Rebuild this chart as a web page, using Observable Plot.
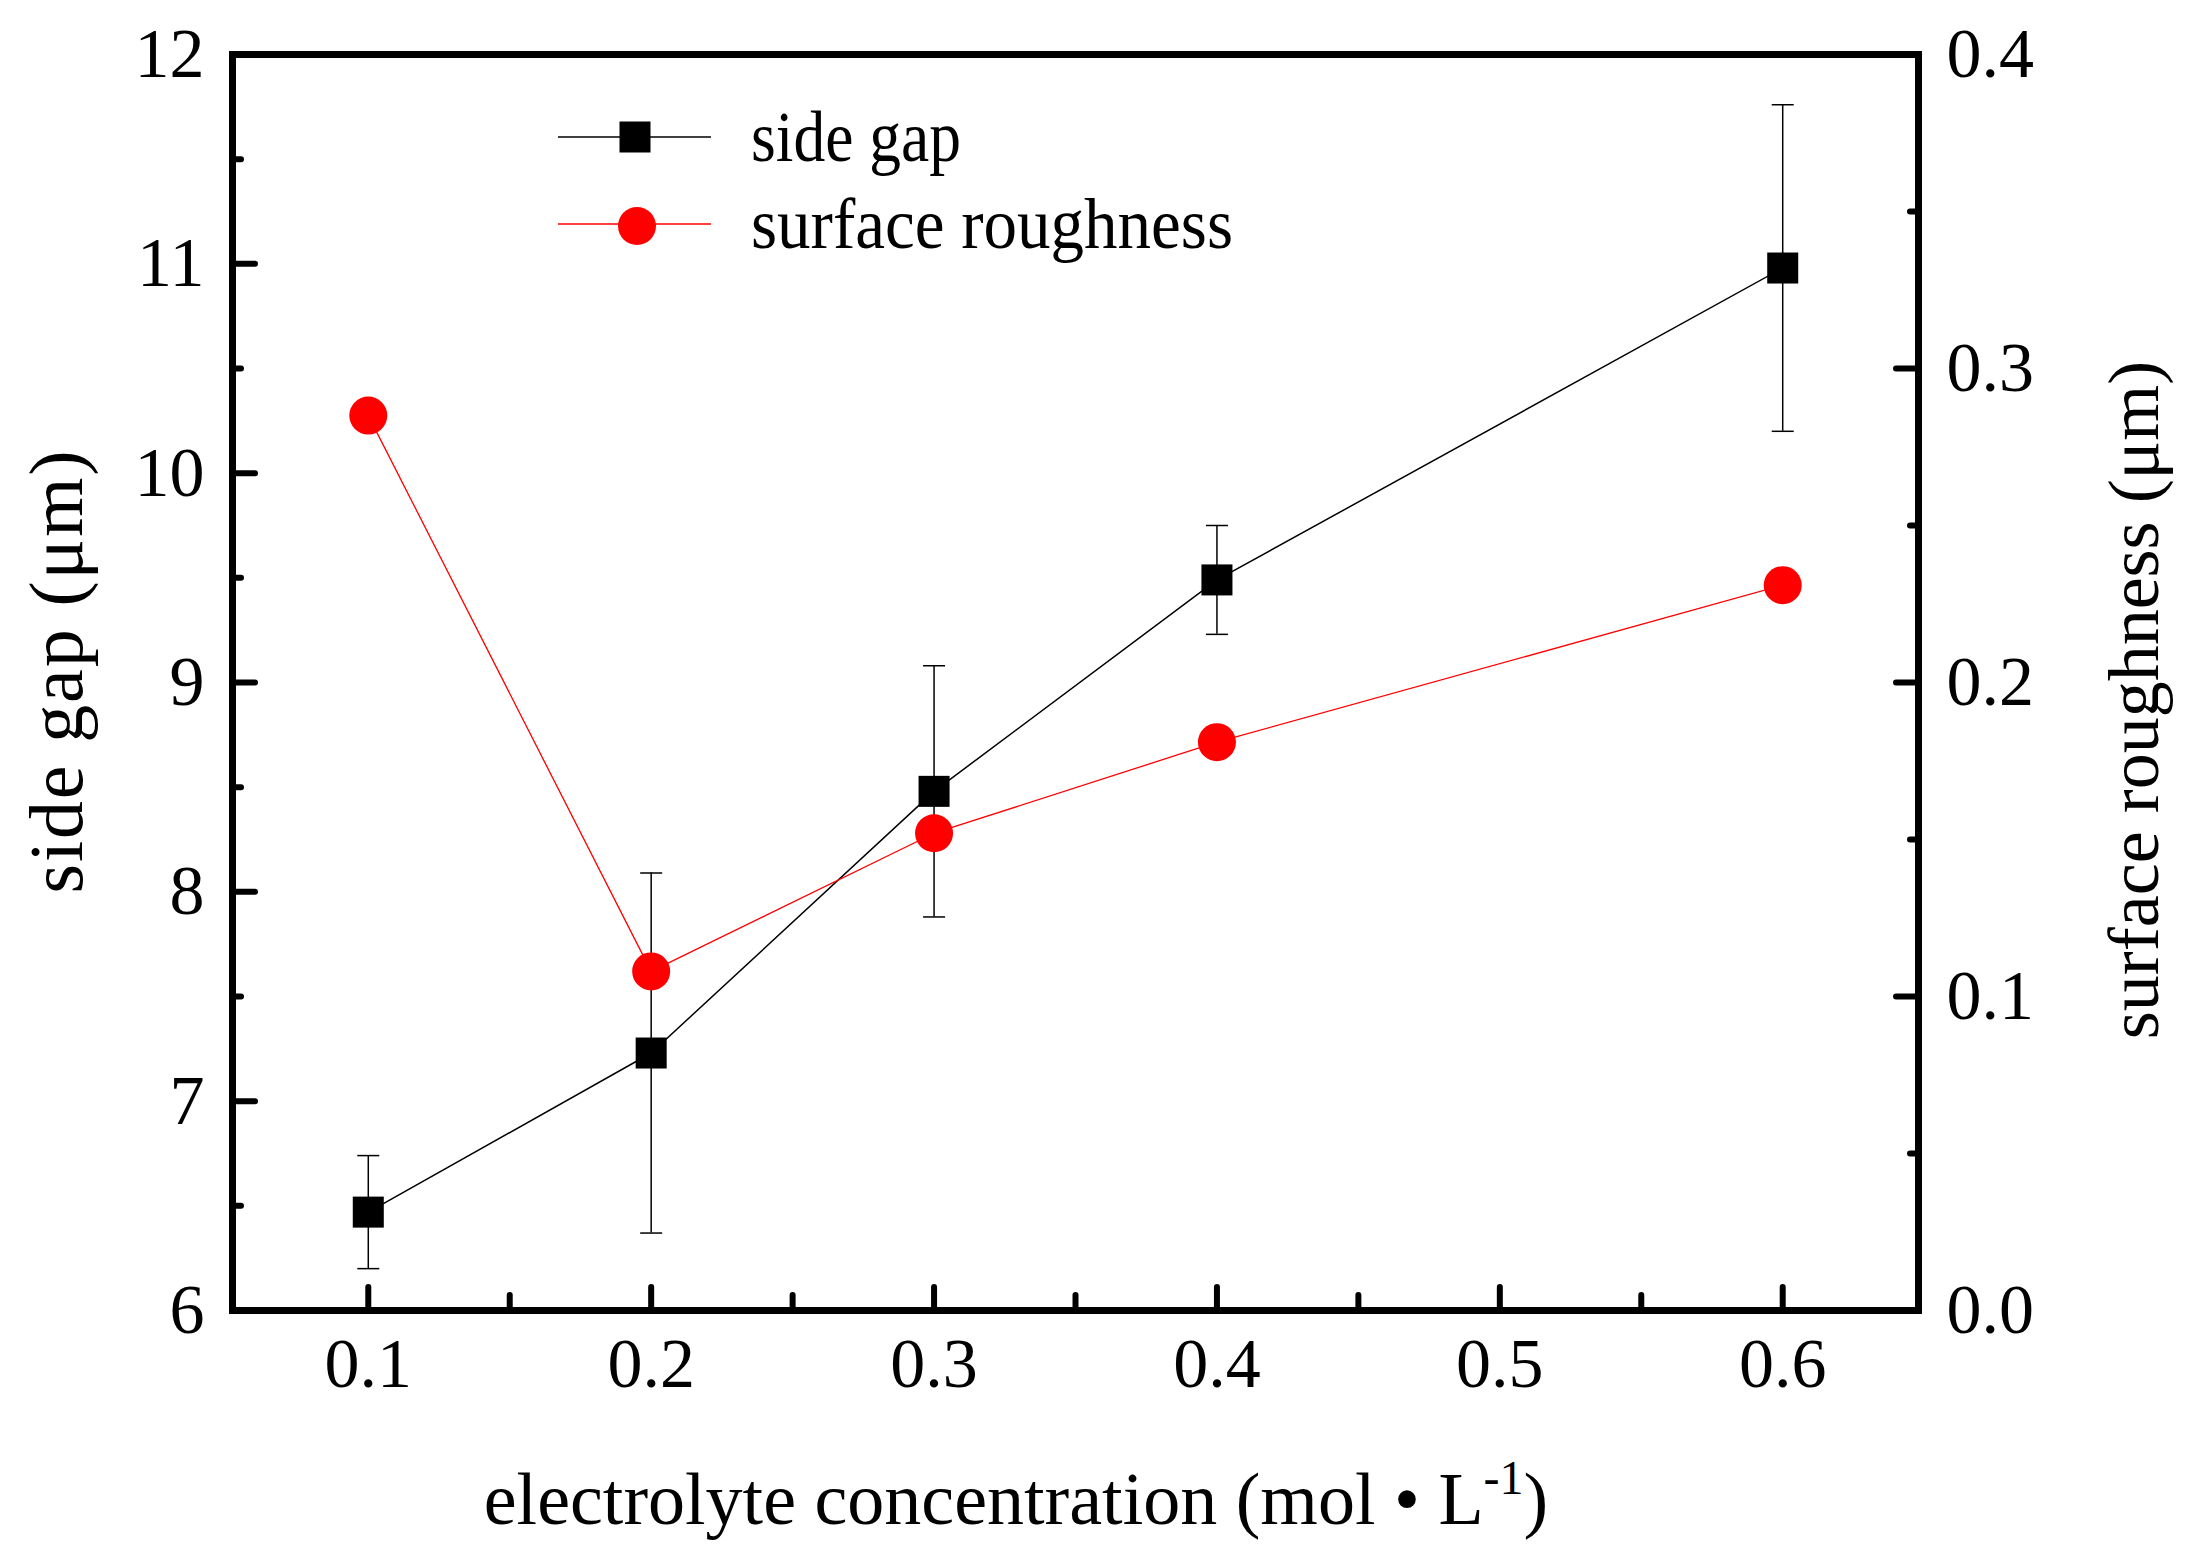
<!DOCTYPE html>
<html><head><meta charset="utf-8">
<script src="https://cdn.jsdelivr.net/npm/d3@7"></script>
<script src="https://cdn.jsdelivr.net/npm/@observablehq/plot@0.6"></script>
<style>html,body{margin:0;padding:0;background:#fff;}</style>
</head><body><div id="chart"></div>
<script>
// ---- data ----
const concentration = [0.1, 0.2, 0.3, 0.4, 0.6];
const sideGap = [6.47, 7.23, 8.48, 9.49, 10.98];
const sideGapError = [0.27, 0.86, 0.60, 0.26, 0.78];
const surfaceRoughness = [0.285, 0.108, 0.152, 0.181, 0.231];

const xTicks = [0.1, 0.2, 0.3, 0.4, 0.5, 0.6];
const xMinorTicks = [0.15, 0.25, 0.35, 0.45, 0.55];
const leftTicks = [6, 7, 8, 9, 10, 11, 12];
const leftMinorTicks = [6.5, 7.5, 8.5, 9.5, 10.5, 11.5];
const rightTicks = [0.0, 0.1, 0.2, 0.3, 0.4];
const rightMinorTicks = [0.05, 0.15, 0.25, 0.35];

const seriesNames = ["side gap", "surface roughness"];
const seriesColors = ["#000000", "#ff0000"];
const xTitle = "electrolyte concentration (mol • L";
const xTitleSup = "-1";
const leftTitle = "side gap (μm)";
const rightTitle = "surface roughness (μm)";

// ---- scales mapping ----
const leftDomain = [6, 12];
const rightDomain = [0, 0.4];
const toLeft = r => leftDomain[0] + (r - rightDomain[0]) * (leftDomain[1] - leftDomain[0]) / (rightDomain[1] - rightDomain[0]);
const fromLeft = v => rightDomain[0] + (v - leftDomain[0]) * (rightDomain[1] - rightDomain[0]) / (leftDomain[1] - leftDomain[0]);

const gapData = concentration.map((x, i) => ({x, y: sideGap[i], lo: sideGap[i] - sideGapError[i], hi: sideGap[i] + sideGapError[i]}));
const roughData = concentration.map((x, i) => ({x, r: surfaceRoughness[i], y: toLeft(surfaceRoughness[i])}));

const font = "'Liberation Serif', 'Times New Roman', Times, serif";
const capSymbol = {draw(ctx, size) { const w = Math.sqrt(size / Math.PI); ctx.moveTo(-w, 0); ctx.lineTo(w, 0); }};
const tickStyle = {strokeWidth: 6, strokeLinecap: "round", fill: "none", label: null};

const plot = Plot.plot({
  width: 2195, height: 1552,
  marginLeft: 232, marginRight: 277, marginTop: 54, marginBottom: 242,
  x: {domain: [0.052, 0.648]},
  y: {domain: leftDomain},
  style: {fontFamily: font, background: "white", color: "black"},
  marks: [
    Plot.ruleX(gapData, {x: "x", y1: "lo", y2: "hi", stroke: "black", strokeWidth: 1.5}),
    Plot.dot(gapData, {x: "x", y: "lo", symbol: capSymbol, r: 11, fill: "none", stroke: "black", strokeWidth: 1.5}),
    Plot.dot(gapData, {x: "x", y: "hi", symbol: capSymbol, r: 11, fill: "none", stroke: "black", strokeWidth: 1.5}),
    Plot.line(gapData, {x: "x", y: "y", stroke: seriesColors[0], strokeWidth: 1.5}),
    Plot.dot(gapData, {x: "x", y: "y", symbol: "square", r: 17.5, fill: seriesColors[0], stroke: "none"}),
    Plot.line(roughData, {x: "x", y: "y", stroke: seriesColors[1], strokeWidth: 1.3}),
    Plot.dot(roughData, {x: "x", y: "y", r: 19, fill: seriesColors[1], stroke: "none"}),

    Plot.axisX({ticks: xTicks, tickSize: -23, ...tickStyle}),
    Plot.axisX({ticks: xMinorTicks, tickSize: -15, ...tickStyle}),
    Plot.axisX({ticks: xTicks, tickSize: 0, tickPadding: 27, fontSize: 70, tickFormat: d3.format(".1f"), label: null}),

    Plot.axisY({ticks: leftTicks, anchor: "left", tickSize: -23, ...tickStyle}),
    Plot.axisY({ticks: leftMinorTicks, anchor: "left", tickSize: -9, ...tickStyle}),
    Plot.axisY({ticks: leftTicks, anchor: "left", tickSize: 0, tickPadding: 28, fontSize: 70, tickFormat: d => String(d), label: null}),

    Plot.axisY({ticks: rightTicks.map(toLeft), anchor: "right", tickSize: -23, ...tickStyle}),
    Plot.axisY({ticks: rightMinorTicks.map(toLeft), anchor: "right", tickSize: -9, ...tickStyle}),
    Plot.axisY({ticks: rightTicks.map(toLeft), anchor: "right", tickSize: 0, tickPadding: 28, fontSize: 70, tickFormat: d => fromLeft(d).toFixed(1), label: null}),

    Plot.frame({stroke: "black", strokeWidth: 7})
  ]
});

document.getElementById("chart").appendChild(plot);

// ---- titles and legend (text) ----
const svg = d3.select(plot);
svg.append("text")
  .attr("transform", "translate(82,672) rotate(-90)")
  .attr("text-anchor", "middle").attr("font-family", font).attr("font-size", 76).attr("fill", "black")
  .attr("textLength", 443).attr("lengthAdjust", "spacing")
  .text(leftTitle);
svg.append("text")
  .attr("transform", "translate(2158,700) rotate(-90)")
  .attr("text-anchor", "middle").attr("font-family", font).attr("font-size", 72).attr("fill", "black")
  .text(rightTitle);
const xt = svg.append("text")
  .attr("x", 1016).attr("y", 1524)
  .attr("text-anchor", "middle").attr("font-family", font).attr("font-size", 74).attr("fill", "black");
xt.append("tspan").text(xTitle);
xt.append("tspan").attr("font-size", 48).attr("dy", -30).text(xTitleSup);
xt.append("tspan").attr("dy", 30).text(")");

const legendTextLengths = [210, 482];
const lg = svg.append("g").attr("font-family", font).attr("font-size", 72).attr("text-anchor", "start");
seriesNames.forEach((name, i) => {
  const cy = 137 + i * 87;
  const g = lg.append("g");
  g.append("line").attr("x1", 558).attr("x2", 711).attr("y1", cy).attr("y2", cy)
    .attr("stroke", seriesColors[i]).attr("stroke-width", i === 0 ? 1.5 : 1.3);
  if (i === 0) {
    g.append("rect").attr("x", 635 - 15.5).attr("y", cy - 15.5).attr("width", 31).attr("height", 31).attr("fill", seriesColors[i]);
  } else {
    g.append("circle").attr("cx", 637).attr("cy", cy + 2).attr("r", 19).attr("fill", seriesColors[i]);
  }
  g.append("text").attr("x", 751).attr("y", cy + 24).attr("fill", "black").attr("text-anchor", "start")
    .attr("textLength", legendTextLengths[i]).attr("lengthAdjust", "spacingAndGlyphs").text(name);
});
</script>
</body></html>
